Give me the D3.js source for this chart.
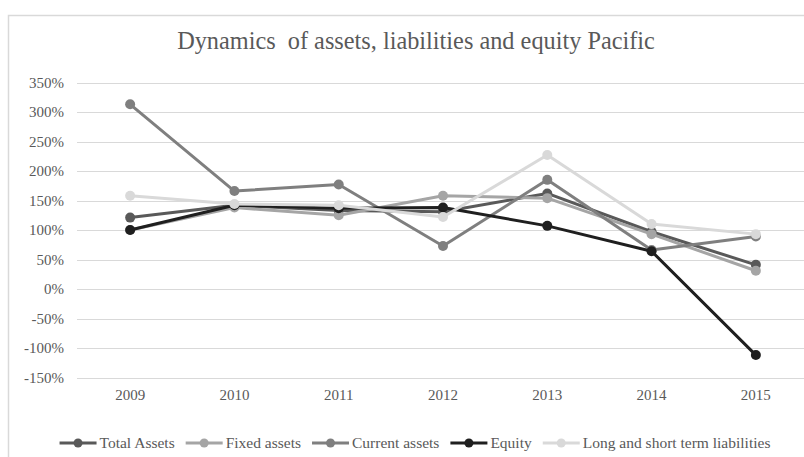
<!DOCTYPE html>
<html>
<head>
<meta charset="utf-8">
<script src="https://cdn.jsdelivr.net/npm/d3@7"></script>
<style>
  body { margin: 0; background: #fff; }
  svg text { font-family: 'Liberation Serif', 'Times New Roman', serif; }
</style>
</head>
<body>
<svg width="804" height="457"></svg>
<script>
const years = ["2009", "2010", "2011", "2012", "2013", "2014", "2015"];
const totalAssets = [121, 142, 133, 131, 162, 97, 41];
const fixedAssets = [100, 138, 125, 158, 154, 93, 31];
const currentAssets = [313, 166, 177, 73, 185, 66, 89];
const equity = [100, 142, 137, 138, 107, 64, -112];
const liabilities = [158, 144, 142, 122, 227, 110, 93];
const yTicks = [-150, -100, -50, 0, 50, 100, 150, 200, 250, 300, 350];

const series = [
  { name: "Total Assets", values: totalAssets, color: "#595959" },
  { name: "Fixed assets", values: fixedAssets, color: "#a5a5a5" },
  { name: "Current assets", values: currentAssets, color: "#7f7f7f" },
  { name: "Equity", values: equity, color: "#1f1f1f" },
  { name: "Long and short term liabilities", values: liabilities, color: "#d9d9d9" }
];

const serif = "'Liberation Serif', 'Times New Roman', serif";
let svg = d3.select("svg");

// chart frame (runs off the right/bottom edge like the source)
svg.append("rect")
  .attr("x", 8.5).attr("y", 15.5)
  .attr("width", 830).attr("height", 480)
  .attr("fill", "#fff")
  .attr("stroke", "#d9d9d9")
  .attr("stroke-width", 1.5);

svg.append("text")
  .attr("x", 416).attr("y", 49)
  .attr("text-anchor", "middle")
  .style("font-family", serif)
  .style("font-size", "24.3px")
  .style("white-space", "pre")
  .attr("fill", "#595959")
  .text("Dynamics  of assets, liabilities and equity Pacific");

var x = d3.scaleBand().domain(years).range([78, 808]);
var y = d3.scaleLinear().domain([-150, 350]).range([377.5, 82.5]);

// gridlines
svg.append("g")
  .selectAll("line")
  .data(yTicks)
  .enter()
  .append("line")
  .attr("x1", 77).attr("x2", 808)
  .attr("y1", d => Math.round(y(d)) + 0.5)
  .attr("y2", d => Math.round(y(d)) + 0.5)
  .attr("stroke", "#d9d9d9")
  .attr("stroke-width", 1);

// y axis labels
var yAxis = svg.append("g")
  .attr("transform", "translate(64,0)")
  .call(d3.axisLeft(y).tickValues(yTicks).tickSize(0).tickPadding(0).tickFormat(d => d + "%"));
yAxis.select(".domain").remove();
yAxis.selectAll("text")
  .style("font-family", serif)
  .style("font-size", "15px")
  .attr("fill", "#595959");

// x axis labels
var xAxis = svg.append("g")
  .attr("transform", "translate(0,389)")
  .call(d3.axisBottom(x).tickSize(0).tickPadding(0));
xAxis.select(".domain").remove();
xAxis.selectAll("text")
  .style("font-family", serif)
  .style("font-size", "15px")
  .attr("fill", "#595959");

var cx = d => x(d) + x.bandwidth() / 2;
var line = d3.line()
  .x((d, i) => cx(years[i]))
  .y(d => y(d));

var lines = svg.append("g")
  .selectAll("g")
  .data(series)
  .enter()
  .append("g");

lines.append("path")
  .attr("d", d => line(d.values))
  .attr("fill", "none")
  .attr("stroke", d => d.color)
  .attr("stroke-width", 3)
  .attr("stroke-linejoin", "round");

lines.each(function (s) {
  d3.select(this)
    .selectAll("circle")
    .data(s.values)
    .enter()
    .append("circle")
    .attr("cx", (d, i) => cx(years[i]))
    .attr("cy", d => y(d))
    .attr("r", 5)
    .attr("fill", s.color);
});

// legend
var legend = svg.append("g");
var items = legend.selectAll("g")
  .data(series)
  .enter()
  .append("g");

items.append("line")
  .attr("x1", 0).attr("x2", 37)
  .attr("y1", 0).attr("y2", 0)
  .attr("stroke", d => d.color)
  .attr("stroke-width", 3);
items.append("circle")
  .attr("cx", 18.5).attr("cy", 0).attr("r", 4.5)
  .attr("fill", d => d.color);
items.append("text")
  .attr("x", 40).attr("y", 5)
  .style("font-family", serif)
  .style("font-size", "15.5px")
  .attr("fill", "#595959")
  .text(d => d.name);

var pos = 0;
var widths = [];
items.each(function () {
  var w = 40 + d3.select(this).select("text").node().getComputedTextLength();
  widths.push(w);
});
var total = d3.sum(widths) + 11 * (widths.length - 1);
var start = 415 - total / 2;
items.attr("transform", function (d, i) {
  var t = "translate(" + (start + pos) + ",443)";
  pos += widths[i] + 11;
  return t;
});
</script>
</body>
</html>
